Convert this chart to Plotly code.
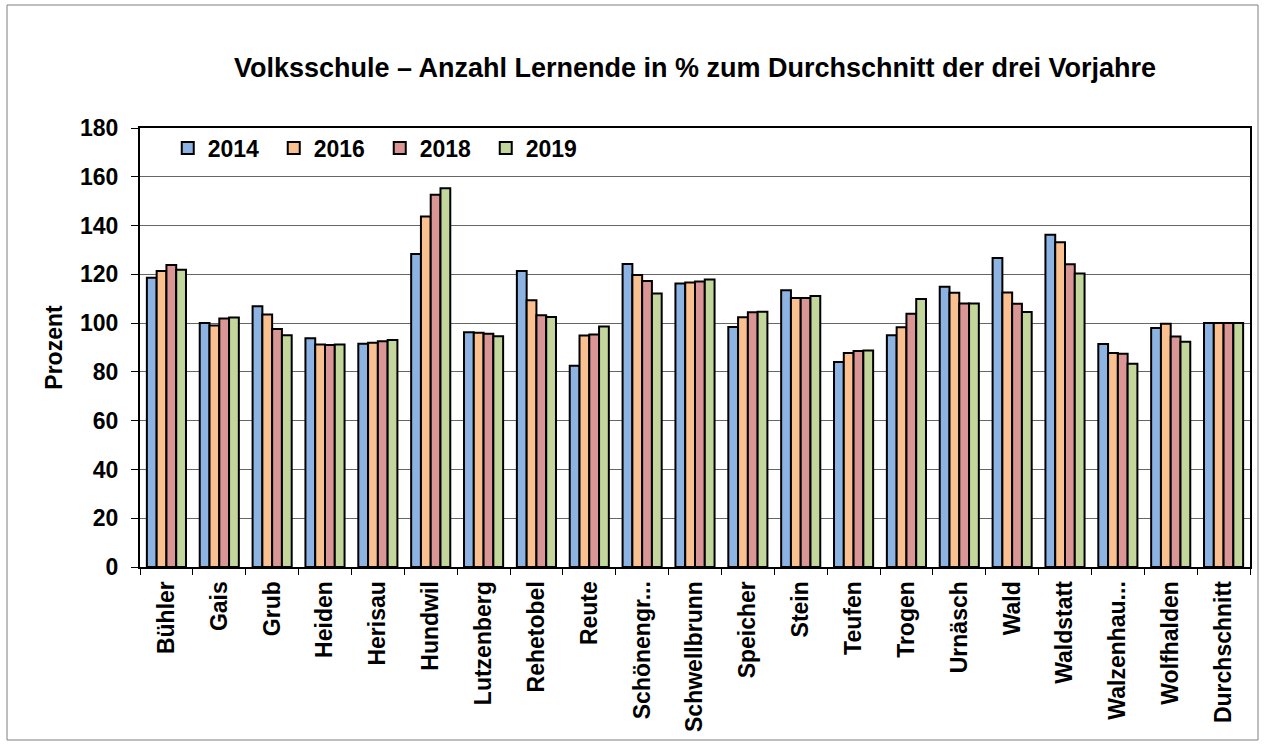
import plotly.graph_objects as go

categories = ["Bühler", "Gais", "Grub", "Heiden", "Herisau", "Hundwil", "Lutzenberg",
              "Rehetobel", "Reute", "Schönengr...", "Schwellbrunn", "Speicher", "Stein",
              "Teufen", "Trogen", "Urnäsch", "Wald", "Waldstatt", "Walzenhau...",
              "Wolfhalden", "Durchschnitt"]

v2014 = [118.6, 100.0, 106.9, 93.8, 91.5, 128.3, 96.3, 121.4, 82.5, 124.2, 116.2,
         98.4, 113.5, 84.1, 95.0, 114.9, 126.7, 136.2, 91.4, 98.0, 100.0]
v2016 = [121.4, 99.0, 103.5, 91.2, 91.9, 143.7, 96.0, 109.4, 94.9, 119.7, 116.7,
         102.4, 110.3, 87.7, 98.3, 112.5, 112.6, 133.2, 87.7, 99.7, 100.0]
v2018 = [123.8, 101.9, 97.6, 91.0, 92.6, 152.6, 95.6, 103.2, 95.3, 117.3, 117.1,
         104.5, 110.3, 88.6, 103.8, 108.0, 107.9, 124.1, 87.4, 94.5, 100.0]
v2019 = [121.9, 102.3, 95.0, 91.2, 93.1, 155.3, 94.6, 102.5, 98.6, 112.1, 117.9,
         104.7, 111.1, 88.8, 109.9, 108.0, 104.6, 120.3, 83.3, 92.4, 100.0]

series_names = ["2014", "2016", "2018", "2019"]
series_values = [v2014, v2016, v2018, v2019]
colors = ["#8DB3E2", "#FAC090", "#D99694", "#C3D69B"]

FONT = "Liberation Sans, Arial, sans-serif"

fig = go.Figure()
for name, vals, col in zip(series_names, series_values, colors):
    fig.add_trace(go.Bar(
        x=categories, y=vals, name=name,
        marker=dict(color=col, line=dict(color="black", width=2)),
    ))

fig.update_layout(
    width=1266, height=745,
    paper_bgcolor="white", plot_bgcolor="white",
    barmode="group", bargap=0.26, bargroupgap=0,
    margin=dict(l=140, r=16, t=128, b=178),
    font=dict(family=FONT, color="black"),
    title=dict(
        text="<b>Volksschule – Anzahl Lernende in % zum Durchschnitt der drei Vorjahre</b>",
        x=0.5, xref="paper", y=1 - 68 / 745, yref="container",
        xanchor="center", yanchor="middle",
        font=dict(size=27, family=FONT, color="black"),
    ),
    legend=dict(
        orientation="h", x=0.025, y=(567 - 148) / 439, xanchor="left", yanchor="middle",
        font=dict(size=23, family=FONT, color="black", weight="bold"),
        bgcolor="rgba(0,0,0,0)", entrywidth=61, entrywidthmode="pixels",
        traceorder="normal",
    ),
    showlegend=True,
)

fig.update_xaxes(
    type="category",
    tickangle=-90,
    tickfont=dict(size=23, family=FONT, color="black", weight="bold"),
    ticks="outside", tickson="boundaries", ticklen=6, tickcolor="black",
    ticklabelstandoff=3,
    showline=True, linecolor="black", linewidth=2, mirror=True,
    showgrid=False,
)
fig.update_yaxes(
    range=[0, 180], dtick=20,
    tickfont=dict(size=23, family=FONT, color="black", weight="bold"),
    ticks="outside", ticklen=7, tickcolor="black",
    ticklabelstandoff=8,
    showline=True, linecolor="black", linewidth=2, mirror=True,
    showgrid=True, gridcolor="#666666", gridwidth=1,
    zeroline=False,
    title=dict(text="<b>Prozent</b>", font=dict(size=23, family=FONT, color="black"),
               standoff=11),
)

# outer chart border
fig.add_shape(
    type="rect", xref="paper", yref="paper",
    x0=(7 - 140) / 1110, x1=(1258 - 140) / 1110,
    y0=(567 - 740) / 439, y1=(567 - 5) / 439,
    line=dict(color="#7f7f7f", width=1), fillcolor="rgba(0,0,0,0)", layer="below",
)

fig.write_html("out.html", config={"displayModeBar": False},
               post_script="document.body.style.margin='0px';")
